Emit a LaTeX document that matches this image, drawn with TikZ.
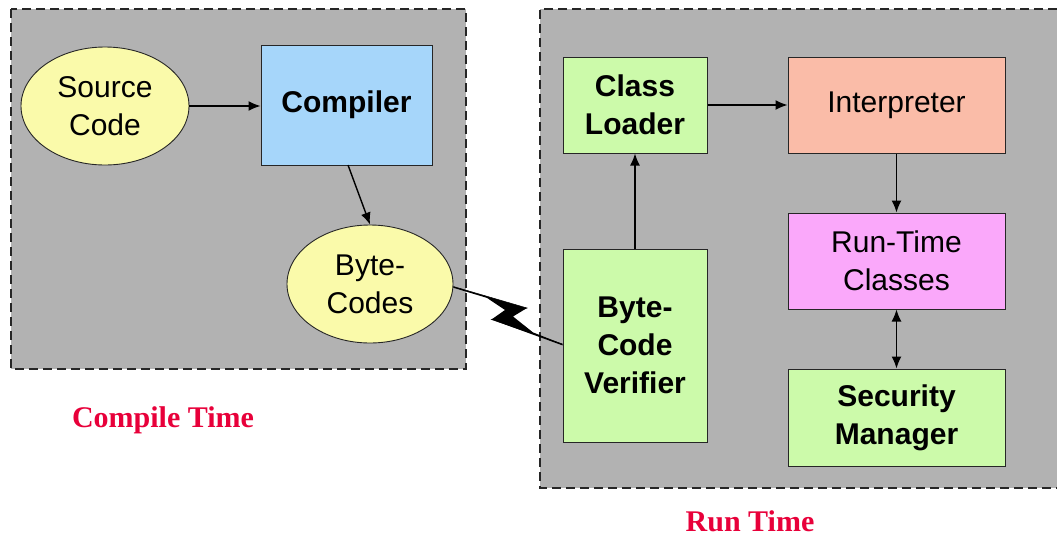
\documentclass[tikz,border=0pt]{standalone}
\usepackage{fontspec}
\setmainfont{Liberation Sans}
\newfontfamily\titlefont{Liberation Serif}
\usetikzlibrary{arrows.meta,shapes.geometric,calc}
\definecolor{panelgray}{RGB}{178,178,178}
\definecolor{ellyellow}{RGB}{250,250,170}
\definecolor{compblue}{RGB}{166,214,250}
\definecolor{boxgreen}{RGB}{204,250,170}
\definecolor{interpsalmon}{RGB}{250,188,168}
\definecolor{rtpink}{RGB}{250,168,250}
\definecolor{titlered}{RGB}{232,0,58}
\tikzset{
  panel/.style={fill=panelgray,draw=black!85,dash pattern=on 9pt off 5pt,line width=1.2pt},
  ellnode/.style={ellipse,draw=black!85,line width=0.9pt,fill=ellyellow,inner sep=0pt,
    align=center,font=\fontsize{30}{38}\selectfont},
  boxnode/.style={rectangle,draw=black!85,line width=1pt,inner sep=0pt,align=center,
    font=\fontsize{30}{38}\selectfont},
  boldbox/.style={boxnode,font=\fontsize{30}{38}\selectfont\bfseries},
  conn/.style={line width=1.4pt,-{Latex[length=12pt,width=10pt]}},
  dconn/.style={line width=1.4pt,{Latex[length=12pt,width=10pt]}-{Latex[length=12pt,width=10pt]}},
  titletext/.style={text=titlered,inner sep=0pt,font=\titlefont\fontsize{30}{36}\selectfont\bfseries}
}
\begin{document}
\begin{tikzpicture}[x=1pt,y=-1pt]
\useasboundingbox[fill=white] (0,0) rectangle (1057,536);
% panels
\path[panel] (11,9) rectangle (466,369);
\fill[panelgray] (540,9) rectangle (1057,488);
\draw[panel,fill=none] (1057,9) -- (540,9) -- (540,488) -- (1057,488);
% compile time nodes
\node[ellnode,minimum width=168pt,minimum height=118pt] (src) at (105,106) {Source\\Code};
\node[boldbox,fill=compblue,minimum width=171pt,minimum height=120pt] (comp) at (346.5,105) {Compiler};
\node[ellnode,minimum width=166pt,minimum height=118pt] (bc) at (370,284) {Byte-\\Codes};
% run time nodes
\node[boldbox,fill=boxgreen,minimum width=144pt,minimum height=96pt] (cl) at (635,105) {Class\\Loader};
\node[boxnode,fill=interpsalmon,minimum width=217pt,minimum height=96pt] (interp) at (896.5,105) {Interpreter};
\node[boxnode,fill=rtpink,minimum width=217pt,minimum height=96pt] (rtc) at (896.5,261) {Run-Time\\Classes};
\node[boldbox,fill=boxgreen,minimum width=217pt,minimum height=97pt] (sm) at (896.5,417.5) {Security\\Manager};
\node[boldbox,fill=boxgreen,minimum width=144pt,minimum height=193pt] (bcv) at (635,345.5) {Byte-\\Code\\Verifier};
% connectors
\draw[conn] (src.east) -- (src.east -| comp.west);
\draw[conn] (348,165) -- (bc.north);
\draw[conn] (cl.east) -- (interp.west);
\draw[conn] (bcv.north) -- (cl.south);
\draw[conn] (interp.south) -- (rtc.north);
\draw[dconn] (rtc.south) -- (sm.north);
% lightning link
\coordinate (zs) at ($(bc.east)+(0,2.5)$);
\coordinate (ze) at ($(bcv.west)+(0,-1.5)$);
\fill[line join=miter] (zs) -- (527,308) -- (513,316.5) -- (533,332.4) -- (ze)
  -- ($(ze)+(0,1.4)$) -- (491.5,319.5) -- (505,310) -- (487,297.9) -- ($(zs)+(0,1.3)$) -- cycle;
\draw[line width=0.5pt] (zs) -- (527,308) -- (491.5,319.5) -- (ze);
% titles
\node[titletext] (ct) at (163,420) {Compile Time};
\node[titletext] (rt) at (750,521) {Run Time};
\end{tikzpicture}
\end{document}
